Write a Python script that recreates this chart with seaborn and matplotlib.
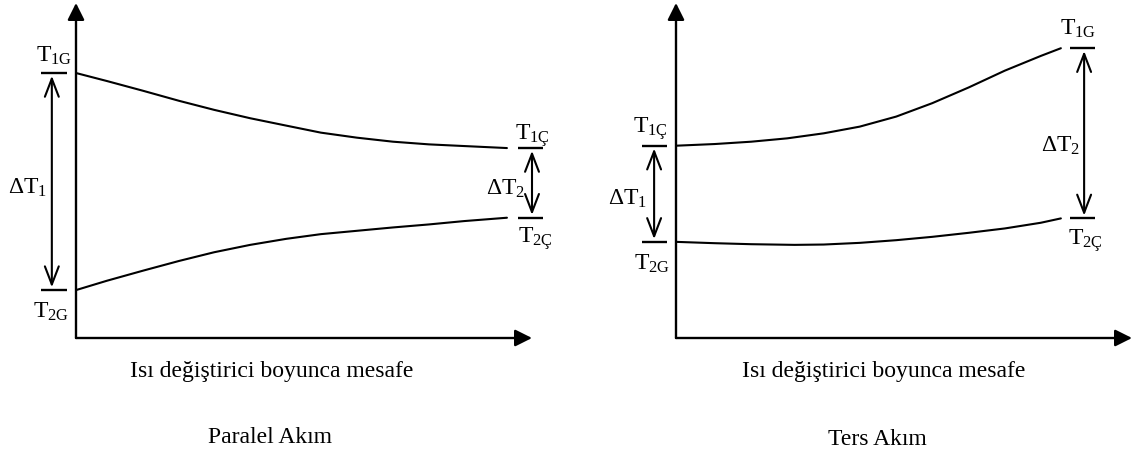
import matplotlib
matplotlib.use("Agg")
import matplotlib.pyplot as plt
import seaborn as sns
import pandas as pd
from matplotlib.patches import FancyArrowPatch

# ---------------- data (axis box = 0..100) ----------------
panel_titles = ["Paralel Akım", "Ters Akım"]
xlabel_text = "Isı değiştirici boyunca mesafe"

par_hot_x = [0, 6.8, 14.7, 22.6, 30.3, 38.2, 46.1, 53.7, 61.6, 69.5, 77.4, 85.1, 94.5]
par_hot_t = [79.1, 76.7, 73.8, 70.8, 68.1, 65.6, 63.4, 61.3, 59.8, 58.6, 57.8, 57.3, 56.7]
par_cold_x = [0, 6.8, 14.7, 22.6, 30.3, 38.2, 46.1, 53.7, 61.6, 69.5, 77.4, 85.1, 94.5]
par_cold_t = [14.3, 17.1, 20.1, 23.0, 25.6, 27.8, 29.6, 31.0, 32.0, 33.0, 33.9, 34.9, 35.9]

cnt_hot_x = [0, 8.5, 16.5, 24.4, 32.4, 40.3, 48.3, 56.2, 64.2, 72.1, 80.0, 84.4]
cnt_hot_t = [57.4, 57.9, 58.6, 59.6, 61.1, 63.1, 66.1, 70.1, 74.8, 79.8, 84.2, 86.5]
cnt_cold_x = [0, 8.5, 16.5, 26.0, 32.4, 40.3, 48.3, 56.2, 64.2, 72.1, 80.0, 84.4]
cnt_cold_t = [28.7, 28.3, 28.0, 27.8, 27.9, 28.4, 29.2, 30.2, 31.4, 32.7, 34.4, 35.7]

# end labels: (start-top, start-bottom, end-top, end-bottom)
par_labels = ["1G", "2G", "1Ç", "2Ç"]
cnt_labels = ["1Ç", "2G", "1G", "2Ç"]
dt_labels = ["1", "2"]

# ---------------- style ----------------
sns.set_theme(style="white")
plt.rcParams["font.family"] = ["Liberation Serif", "DejaVu Serif"]
plt.rcParams["text.color"] = "black"
plt.rcParams["mathtext.fontset"] = "custom"
plt.rcParams["mathtext.rm"] = "Liberation Serif"
plt.rcParams["mathtext.it"] = "Liberation Serif:italic"
plt.rcParams["mathtext.bf"] = "Liberation Serif:bold"

FS = 17
LW_AX = 1.7
LW_CURVE = 1.5
W, H = 1138, 454

fig = plt.figure(figsize=(W / 100, H / 100), dpi=100)
fig.patch.set_facecolor("white")

def T(sub):
    return r"$\mathrm{T}_{\mathrm{%s}}$" % sub

def DT(sub):
    return r"$\mathrm{\Delta T}_{\mathrm{%s}}$" % sub

panels = [
    dict(left=76, hot=(par_hot_x, par_hot_t), cold=(par_cold_x, par_cold_t),
         labels=par_labels, title=panel_titles[0],
         tickL=(-7.7, -2.0), arrL=-5.3, tickR=(96.9, 102.4), arrR=100.0,
         labL_top=(-4.8, 82.4), labL_bot=(-5.5, 6.0), dtL=(-10.7, 43.0),
         labR_top=(100.0, 59.1), labR_bot=(100.7, 28.4), dtR=(94.1, 42.7),
         xlab=(43.0, -11.6), ttl=(42.5, -31.3)),
    dict(left=676, hot=(cnt_hot_x, cnt_hot_t), cold=(cnt_cold_x, cnt_cold_t),
         labels=cnt_labels, title=panel_titles[1],
         tickL=(-7.5, -2.0), arrL=-4.8, tickR=(86.4, 91.9), arrR=89.5,
         labL_top=(-5.5, 61.2), labL_bot=(-5.3, 20.3), dtL=(-10.7, 39.7),
         labR_top=(88.2, 90.4), labR_bot=(89.7, 27.8), dtR=(84.4, 55.5),
         xlab=(45.5, -11.6), ttl=(44.1, -32.0)),
]

for p in panels:
    ax = fig.add_axes([p["left"] / W, (H - 338) / H, 456 / W, 335 / H])
    hx, ht = p["hot"]
    cx, ct = p["cold"]
    df = pd.concat([
        pd.DataFrame({"x": hx, "T": ht, "akış": "sıcak"}),
        pd.DataFrame({"x": cx, "T": ct, "akış": "soğuk"}),
    ])
    sns.lineplot(data=df, x="x", y="T", units="akış", estimator=None,
                 color="black", lw=LW_CURVE, ax=ax, legend=False, sort=False)
    for ln in ax.lines:
        ln.set_solid_joinstyle("round")
    ax.set_xlim(0, 100)
    ax.set_ylim(0, 100)
    ax.set_axis_off()

    # axes with filled arrowheads
    for tip in [(1, 0), (0, 1)]:
        ax.annotate("", xy=tip, xytext=(0, 0), xycoords="axes fraction",
                    arrowprops=dict(arrowstyle="-|>,head_length=0.6,head_width=0.3",
                                    lw=LW_AX, color="black", shrinkA=0, shrinkB=0,
                                    mutation_scale=17))

    lab = p["labels"]
    yL_top, yL_bot = ht[0], ct[0]
    yR_top, yR_bot = ht[-1], ct[-1]
    for (x0, x1), yt, yb, xa in [(p["tickL"], yL_top, yL_bot, p["arrL"]),
                                 (p["tickR"], yR_top, yR_bot, p["arrR"])]:
        for yy in (yt, yb):
            ax.plot([x0, x1], [yy, yy], color="black", lw=LW_AX,
                    clip_on=False, solid_capstyle="butt")
        arr = FancyArrowPatch((xa, yt), (xa, yb),
                              arrowstyle="<->,head_length=13,head_width=5",
                              mutation_scale=1, lw=1.5, color="black",
                              shrinkA=2, shrinkB=2, clip_on=False)
        ax.add_patch(arr)

    kw = dict(fontsize=FS, ha="center", va="baseline", clip_on=False, color="black")
    ax.text(*p["labL_top"], T(lab[0]), **kw)
    ax.text(*p["labL_bot"], T(lab[1]), **kw)
    ax.text(*p["labR_top"], T(lab[2]), **kw)
    ax.text(*p["labR_bot"], T(lab[3]), **kw)
    ax.text(*p["dtL"], DT(dt_labels[0]), **kw)
    ax.text(*p["dtR"], DT(dt_labels[1]), **kw)

    ax.text(*p["xlab"], xlabel_text, **kw)
    ax.text(*p["ttl"], p["title"], **kw)

fig.savefig("out.png", dpi=100, facecolor="white")
